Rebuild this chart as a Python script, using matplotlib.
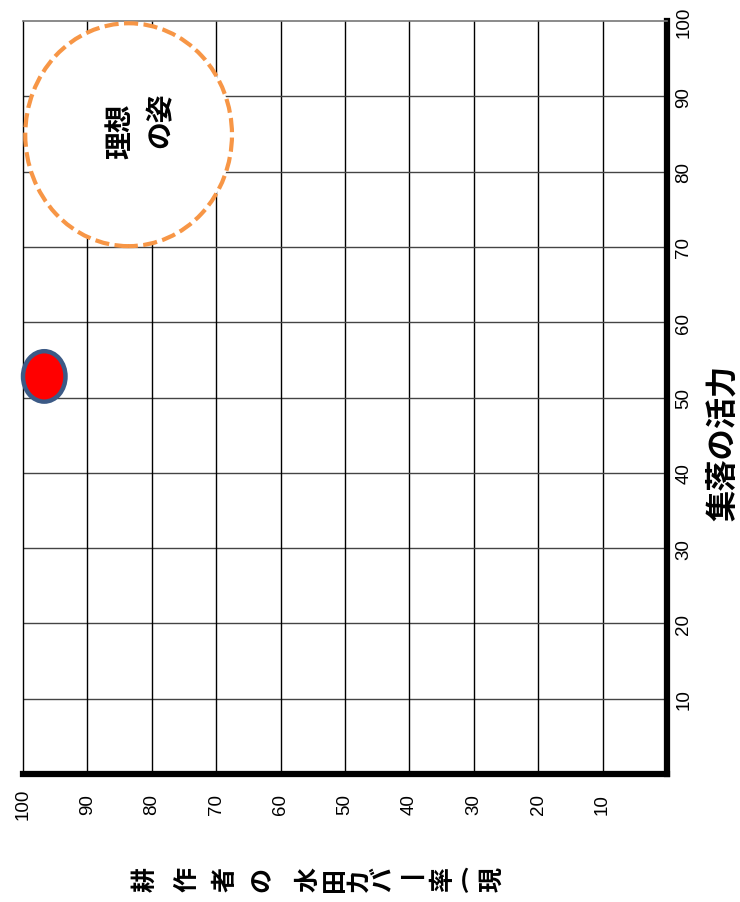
import numpy as np
import matplotlib
matplotlib.use('Agg')
import matplotlib.pyplot as plt
from matplotlib.patches import Ellipse

plt.rcParams['font.family'] = ['Liberation Sans', 'Noto Sans CJK JP', 'DejaVu Sans']

# data
ticks = [10, 20, 30, 40, 50, 60, 70, 80, 90, 100]
tick_labels = ['10', '20', '30', '40', '50', '60', '70', '80', '90', '100']
current_x, current_y = 96.7, 52.8      # red point (cover rate, vitality)
ideal_x, ideal_y = 83.6, 84.9          # ideal area centre
ideal_w, ideal_h = 32.1, 29.6
point_w, point_h = 6.6, 6.7
xlabel_chars = ['耕', '作', '者', 'の', '水', '田', 'カ', 'バ', '\u4e00', '率', '(', '現']
ylabel = '集落の活力'

fig = plt.figure(figsize=(7.40, 9.03), dpi=100)
ax = fig.add_axes([23 / 740, 1 - 775 / 903, 644 / 740, 753 / 903])

ax.set_xlim(100, 0)
ax.set_ylim(0, 100)

# grid
for t in ticks[:-1]:
    ax.axvline(t, color='black', lw=1.0, zorder=1)
    ax.axhline(t, color='#444444', lw=1.0, zorder=1)

# spines
ax.spines['right'].set_linewidth(4.5)
ax.spines['bottom'].set_linewidth(4.5)
ax.spines['right'].set_capstyle('projecting')
ax.spines['bottom'].set_capstyle('projecting')
ax.spines['left'].set_linewidth(1.0)
ax.spines['left'].set_color('black')
ax.spines['top'].set_linewidth(1.2)
ax.spines['top'].set_color('#777777')

ax.yaxis.tick_right()
ax.set_xticks(ticks)
ax.set_xticklabels(tick_labels, rotation=90, va='center', fontsize=13.5)
ax.set_yticks(ticks)
ax.set_yticklabels(tick_labels, rotation=90, va='center', ha='left', fontsize=13.5)
ax.tick_params(axis='x', length=0, pad=21)
ax.tick_params(axis='y', length=0, pad=6)

# ideal area
ideal = Ellipse((ideal_x, ideal_y), ideal_w, ideal_h, facecolor='white',
                edgecolor='#F79646', lw=3, linestyle=(0, (3.4, 1.3)),
                zorder=3, clip_on=False)
ax.add_patch(ideal)
ax.text(ideal_x + 1.3, ideal_y + 0.6, '理想', rotation=90, ha='center', va='center',
        fontsize=20, fontweight='bold', family='Noto Sans CJK JP', zorder=4)
ax.text(ideal_x - 4.9, ideal_y + 2.1, 'の姿', rotation=90, ha='center', va='center',
        fontsize=20, fontweight='bold', family='Noto Sans CJK JP', zorder=4)

# current point
pt = Ellipse((current_x, current_y), point_w, point_h, facecolor='#FF0000',
             edgecolor='#3C5A86', lw=3.2, zorder=5, clip_on=False)
ax.add_patch(pt)

# axis titles
fig.text(723 / 740, 1 - 443 / 903, ylabel, rotation=90, ha='center', va='center',
         fontsize=22.5, fontweight='bold', family='Noto Sans CJK JP')

char_x = [145, 187, 226, 263, 308, 335, 359, 382, 412, 443, 465, 492]
upright = {'\u4e00', '('}
for ch, px in zip(xlabel_chars, char_x):
    rot = 0 if ch in upright else 90
    fig.text(px / 740, 1 - 880 / 903, ch, rotation=rot, ha='center', va='center',
             fontsize=18, fontweight='bold', family='Noto Sans CJK JP')

fig.savefig('out.png', dpi=100)
